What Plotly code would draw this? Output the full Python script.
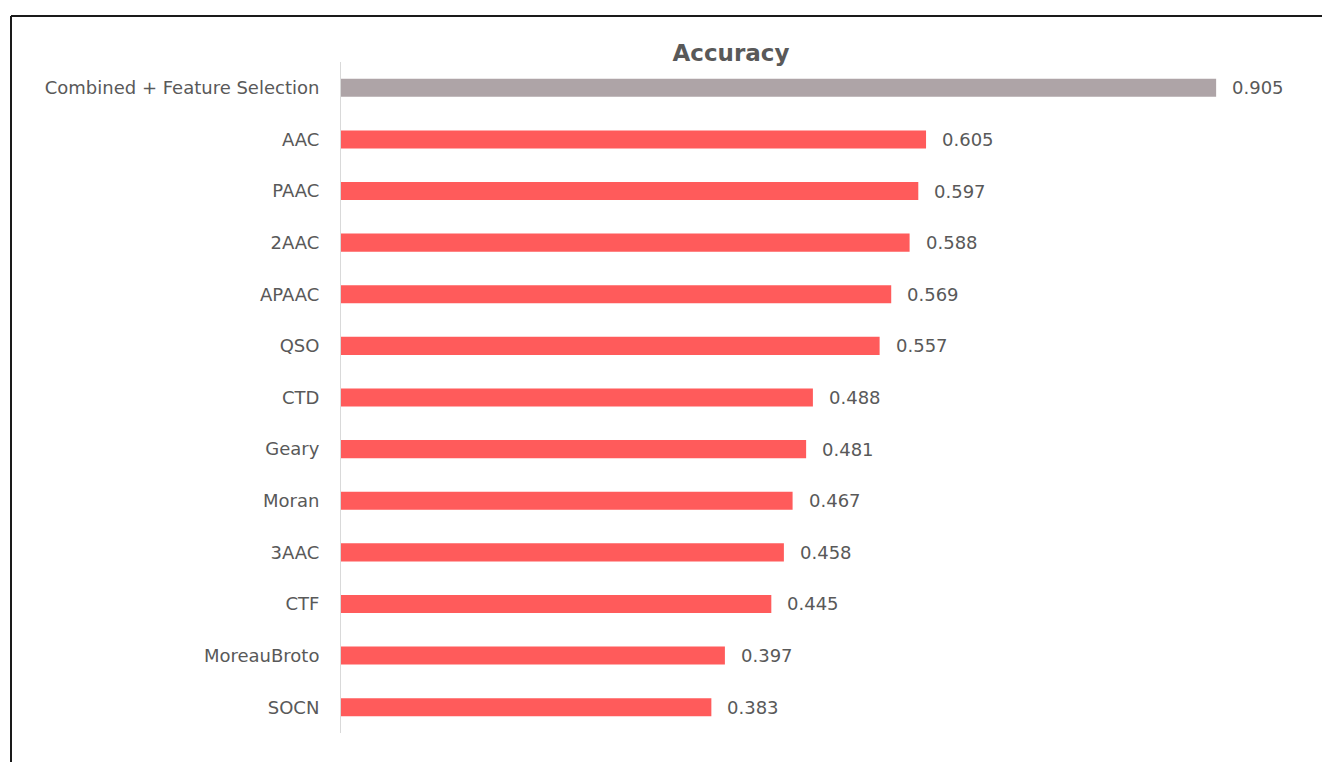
import plotly.graph_objects as go

categories = ["Combined + Feature Selection", "AAC", "PAAC", "2AAC", "APAAC", "QSO",
              "CTD", "Geary", "Moran", "3AAC", "CTF", "MoreauBroto", "SOCN"]
values = [0.905, 0.605, 0.597, 0.588, 0.569, 0.557, 0.488, 0.481, 0.467, 0.458, 0.445, 0.397, 0.383]
colors = ["#AEA4A7"] + ["#FF5B5B"] * 12

W, H = 1330, 762
OFF = 8  # page body margin
left, right_px = 341 - OFF, 1308 - OFF
top, bottom_px = 62 - OFF, 733 - OFF
FONT = "DejaVu Sans"

fig = go.Figure()
fig.add_trace(go.Bar(
    y=categories, x=values, orientation="h",
    marker=dict(color=colors, line=dict(width=0)),
    width=0.35, hoverinfo="skip",
))

for c, v in zip(categories, values):
    fig.add_annotation(x=v, y=c, text=f"{v:.3f}", showarrow=False,
                       xanchor="left", xshift=14,
                       font=dict(family=FONT, size=18, color="#595959"))

pw = right_px - left
ph = bottom_px - top


def px_x(x):
    return (x - OFF - left) / pw


def px_y(y):
    return (bottom_px - (y - OFF)) / ph


fig.update_layout(
    width=W, height=H,
    margin=dict(l=left, r=W - right_px, t=top, b=H - bottom_px, pad=0),
    paper_bgcolor="white", plot_bgcolor="white",
    showlegend=False,
    title=dict(text="<b>Accuracy</b>", x=(731 - OFF) / W, xanchor="center", xref="container",
               y=1 - (53 - OFF) / H, yanchor="middle", yref="container",
               font=dict(family=FONT, size=23, color="#595959")),
    xaxis=dict(range=[0, 1], visible=False, fixedrange=True),
    yaxis=dict(showline=True, linecolor="#D9D9D9", linewidth=1,
               showgrid=False, ticks="", ticklabelstandoff=17,
               tickfont=dict(family=FONT, size=18, color="#595959"),
               range=[12.5, -0.5], autorange=False),
    shapes=[
        dict(type="line", xref="paper", yref="paper",
             x0=px_x(11), x1=px_x(W + 20), y0=px_y(16), y1=px_y(16),
             line=dict(color="#1A1A1A", width=2)),
        dict(type="line", xref="paper", yref="paper",
             x0=px_x(11), x1=px_x(11), y0=px_y(16), y1=px_y(H + 20),
             line=dict(color="#1A1A1A", width=2)),
    ],
)

fig.write_html("out.html")
